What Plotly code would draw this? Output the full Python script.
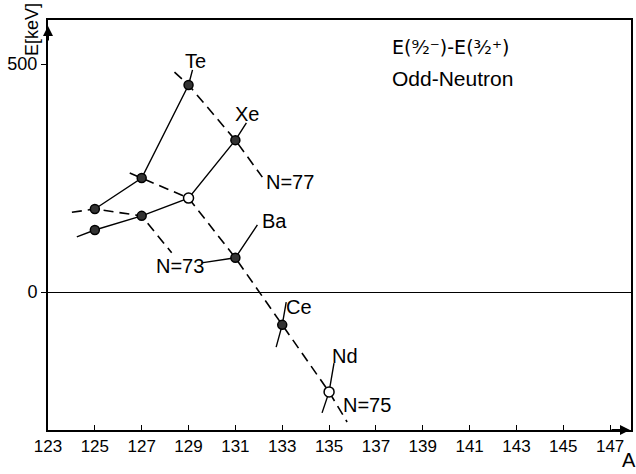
import plotly.graph_objects as go

# ---- data (A = mass number, E in keV) ----
te_A = [125, 127, 129]
te_E = [182, 250, 454]
xe_A = [125, 127, 129, 131]
xe_E = [136, 167, 206, 333]
ba_A = [131]
ba_E = [75]
ce_A = [133]
ce_E = [-72]
nd_A = [135]
nd_E = [-219]
Z = {"Te": 52, "Xe": 54, "Ba": 56, "Ce": 58, "Nd": 60}
hollow = [("Xe", 129), ("Nd", 135)]

x_ticks = list(range(123, 148, 2))
y_ticks = [0, 500]

elements = {
    "Te": (te_A, te_E),
    "Xe": (xe_A, xe_E),
    "Ba": (ba_A, ba_E),
    "Ce": (ce_A, ce_E),
    "Nd": (nd_A, nd_E),
}

# leader-line extensions (label guides), start/end in data units
iso_ext = {  # solid isotope chains: (prefix point, suffix point)
    "Te": (None, (129.17, 487)),
    "Xe": ((124.23, 121), (131.47, 371)),
    "Ba": ((129.55, 64), (131.94, 147)),
    "Ce": ((132.74, -121), (133.17, -22)),
    "Nd": ((134.70, -265), (135.21, -156)),
}
isotone_ext = {
    73: ((124.02, 175), (128.28, 86)),
    75: ((126.49, 261), (135.77, -285)),
    77: ((128.40, 482), (132.15, 252)),
}

fig = go.Figure()

# isotone chains (dashed)
for N, (pre, post) in isotone_ext.items():
    pts = []
    for el, (As, Es) in elements.items():
        for a, e in zip(As, Es):
            if a - Z[el] == N:
                pts.append((a, e))
    pts.sort()
    xs = [pre[0]] + [p[0] for p in pts] + [post[0]]
    ys = [pre[1]] + [p[1] for p in pts] + [post[1]]
    fig.add_trace(go.Scatter(x=xs, y=ys, mode="lines",
                             line=dict(color="black", width=1.6, dash="10px,6px"),
                             hoverinfo="skip", showlegend=False))

# isotope chains (solid)
for el, (As, Es) in elements.items():
    pre, post = iso_ext[el]
    xs, ys = list(As), list(Es)
    if pre:
        xs = [pre[0]] + xs
        ys = [pre[1]] + ys
    if post:
        xs = xs + [post[0]]
        ys = ys + [post[1]]
    fig.add_trace(go.Scatter(x=xs, y=ys, mode="lines",
                             line=dict(color="black", width=1.4),
                             hoverinfo="skip", showlegend=False))

# markers
for el, (As, Es) in elements.items():
    for a, e in zip(As, Es):
        is_h = (el, a) in hollow
        fig.add_trace(go.Scatter(
            x=[a], y=[e], mode="markers",
            marker=dict(size=10 if is_h else 9,
                        color="white" if is_h else "#333333",
                        line=dict(color="black", width=1.5)),
            hoverinfo="skip", showlegend=False))

FONT = "Liberation Sans"
labels = [
    ("Te", 129.30, 506), ("Xe", 131.51, 390), ("N=77", 133.34, 241),
    ("Ba", 132.66, 156), ("N=73", 128.62, 57), ("Ce", 133.72, -33),
    ("Nd", 135.68, -140), ("N=75", 136.62, -248),
]
ann = []
for t, x, y in labels:
    ann.append(dict(x=x, y=y, xref="x", yref="y", text=t, showarrow=False,
                    xanchor="center", yanchor="middle",
                    font=dict(size=20, color="black", family=FONT)))

ann += [
    dict(xref="paper", yref="paper", x=(391 - 48) / 585, y=(430 - 47) / 410,
         xanchor="left", yanchor="middle",
         text="E(⁹⁄₂⁻)-E(³⁄₂⁺)", showarrow=False,
         font=dict(size=19, color="black", family="DejaVu Sans")),
    dict(xref="paper", yref="paper", x=(391 - 48) / 585, y=(430 - 78) / 410,
         xanchor="left", yanchor="middle",
         text="Odd-Neutron", showarrow=False,
         font=dict(size=21, color="black", family=FONT)),
    dict(xref="paper", yref="paper", x=-16 / 585, y=(430 - 30) / 410,
         xanchor="center", yanchor="middle",
         text="E[keV]", textangle=-90, showarrow=False,
         font=dict(size=18, color="black", family=FONT)),
    dict(xref="paper", yref="paper", x=(631 - 48) / 585, y=-(460 - 430) / 410,
         xanchor="center", yanchor="middle",
         text="A", showarrow=False,
         font=dict(size=20, color="black", family=FONT)),
    # axis arrows
    dict(xref="paper", yref="paper", x=0, y=(430 - 26) / 410,
         ax=0, ay=16, axref="pixel", ayref="pixel",
         showarrow=True, arrowhead=2, arrowsize=1, arrowwidth=2, arrowcolor="black", text=""),
    dict(xref="paper", yref="paper", x=(632 - 48) / 585, y=0,
         ax=-20, ay=0, axref="pixel", ayref="pixel",
         showarrow=True, arrowhead=2, arrowsize=1, arrowwidth=2, arrowcolor="black", text=""),
]

fig.update_layout(
    width=636, height=474,
    margin=dict(l=48, r=3, t=20, b=44),
    paper_bgcolor="white", plot_bgcolor="white",
    annotations=ann,
    xaxis=dict(range=[123, 147.89], tickvals=x_ticks, ticktext=[str(v) for v in x_ticks],
               ticks="inside", ticklen=5, tickcolor="black", tickwidth=1.2,
               showgrid=False, zeroline=False, showline=True, linecolor="black",
               linewidth=2, mirror=True,
               tickfont=dict(size=17, color="black", family=FONT)),
    yaxis=dict(range=[-302.6, 596.5], tickvals=y_ticks, ticktext=[str(v) for v in y_ticks],
               ticks="outside", ticklen=5, tickcolor="black", tickwidth=1.2,
               showgrid=False, zeroline=True, zerolinecolor="black", zerolinewidth=1.2,
               showline=True, linecolor="black", linewidth=2, mirror=True,
               tickfont=dict(size=18, color="black", family=FONT)),
)

fig.write_html("out.html")
